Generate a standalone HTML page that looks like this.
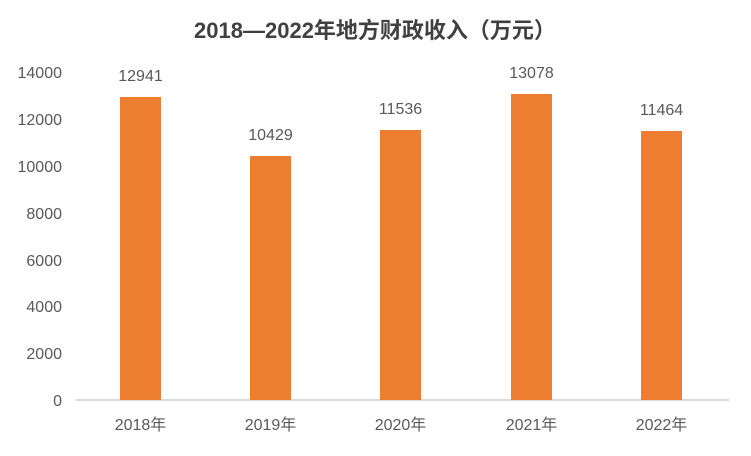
<!DOCTYPE html>
<html><head><meta charset="utf-8"><style>
body{margin:0;background:#fff}
svg text{font-family:"Liberation Sans","Noto Sans CJK SC",sans-serif;fill:#595959}
</style></head><body>
<svg width="751" height="451" xmlns="http://www.w3.org/2000/svg">
<rect width="751" height="451" fill="#fff"/>
<text x="375" y="38" text-anchor="middle" font-size="22" font-weight="bold" style="fill:#404040">2018—2022年地方财政收入（万元）</text>
<g font-size="16" text-anchor="end">
<text x="62" y="78">14000</text>
<text x="62" y="125">12000</text>
<text x="62" y="172">10000</text>
<text x="62" y="219">8000</text>
<text x="62" y="266">6000</text>
<text x="62" y="312">4000</text>
<text x="62" y="359">2000</text>
<text x="62" y="406">0</text>
</g>
<line x1="76" y1="400" x2="729" y2="400" stroke="#d9d9d9" stroke-width="2"/>
<g fill="#ED7D31">
<rect x="120" y="97" width="41" height="303"/>
<rect x="250" y="156" width="41" height="244"/>
<rect x="380" y="130" width="41" height="270"/>
<rect x="511" y="94" width="41" height="306"/>
<rect x="641" y="131" width="41" height="269"/>
</g>
<g font-size="16" text-anchor="middle">
<text x="140.5" y="81">12941</text>
<text x="270.5" y="140">10429</text>
<text x="400.5" y="114">11536</text>
<text x="531.5" y="78">13078</text>
<text x="661.5" y="115">11464</text>
</g>
<g font-size="16" text-anchor="middle">
<text x="140.5" y="430">2018年</text>
<text x="270.5" y="430">2019年</text>
<text x="400.5" y="430">2020年</text>
<text x="531.5" y="430">2021年</text>
<text x="661.5" y="430">2022年</text>
</g>
</svg>
</body></html>
